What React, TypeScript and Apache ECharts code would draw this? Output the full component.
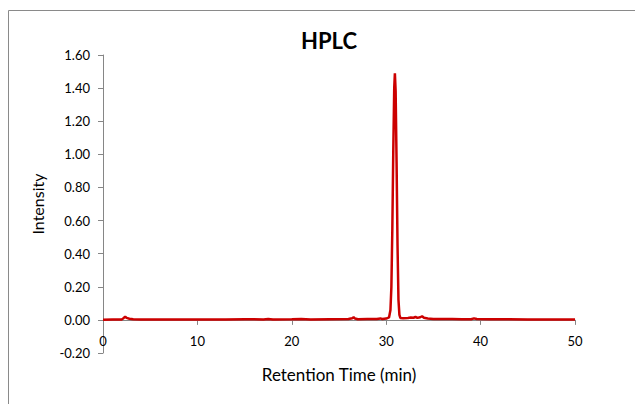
import React, { useEffect, useRef } from "react";
import * as echarts from "echarts";

const times: number[] = [
  0, 1, 2, 2.2, 2.35, 2.5, 2.8, 3.2, 4, 5, 7, 9, 11, 13, 15, 17, 17.5, 18, 20, 21, 22, 24, 26, 26.4, 26.55, 26.7, 27,
  28, 29, 29.4, 29.6, 30, 30.3, 30.45, 30.55, 30.65, 30.75, 30.85, 30.92, 31.0, 31.1, 31.2, 31.3, 31.4, 31.5, 31.8,
  32.3, 32.6, 32.9, 33.1, 33.3, 33.6, 33.8, 34.0, 34.4, 35, 36, 37, 38, 39, 39.3, 39.6, 41, 43, 45, 47, 49, 50,
];

const intensity: number[] = [
  0.001, 0.002, 0.003, 0.012, 0.02, 0.012, 0.007, 0.004, 0.002, 0.002, 0.002, 0.002, 0.003, 0.003, 0.004, 0.003, 0.006,
  0.003, 0.004, 0.005, 0.003, 0.004, 0.005, 0.01, 0.016, 0.008, 0.004, 0.005, 0.006, 0.009, 0.005, 0.008, 0.015, 0.06,
  0.2, 0.55, 1.02, 1.4, 1.49, 1.38, 0.95, 0.45, 0.12, 0.03, 0.012, 0.01, 0.012, 0.014, 0.013, 0.018, 0.012, 0.016,
  0.022, 0.013, 0.008, 0.006, 0.005, 0.005, 0.004, 0.004, 0.009, 0.005, 0.004, 0.004, 0.003, 0.003, 0.003, 0.003,
];

const yTicks = { min: -0.2, max: 1.6, interval: 0.2 };
const xTicks = { min: 0, max: 50, interval: 10 };

const FONT = "Lato, 'Open Sans', sans-serif";

const GRID_TOP = 55;
const GRID_BOTTOM = 51;
const H = 404;

export default function App() {
  const ref = useRef<HTMLDivElement>(null);
  useEffect(() => {
    if (!ref.current) return;
    const chart = echarts.init(ref.current, undefined, { renderer: "svg" });
    const data = times.map((t, i) => [t, intensity[i]]);
    // offset that moves the x axis from the grid bottom up to the y = 0 line
    const plotH = H - GRID_TOP - GRID_BOTTOM;
    const zeroOffset = -(plotH * (0 - yTicks.min)) / (yTicks.max - yTicks.min);
    chart.setOption({
      animation: false,
      backgroundColor: "#ffffff",
      title: {
        text: "HPLC",
        left: 324,
        top: 24,
        textAlign: "center",
        textStyle: { fontFamily: FONT, fontSize: 22, fontWeight: "bold", color: "#000" },
      },
      graphic: [
        {
          type: "rect",
          shape: { x: 8.5, y: 10.5, width: 700, height: 500 },
          style: { fill: "none", stroke: "#8a8a8a", lineWidth: 1 },
          silent: true,
        },
        {
          type: "text",
          x: 339,
          y: 374,
          style: {
            text: "Retention Time (min)",
            font: `17px ${FONT}`,
            fill: "#000",
            align: "center",
            verticalAlign: "middle",
          },
          silent: true,
        },
      ],
      grid: { left: 103, right: 60, top: GRID_TOP, bottom: GRID_BOTTOM, outerBoundsMode: "none", containLabel: false },
      xAxis: {
        type: "value",
        min: xTicks.min,
        max: xTicks.max,
        interval: xTicks.interval,
        offset: zeroOffset,
        axisLine: { onZero: false, lineStyle: { color: "#868686", width: 1 } },
        axisTick: { show: true, inside: false, length: 5, lineStyle: { color: "#868686" } },
        axisLabel: { fontFamily: FONT, fontSize: 13, color: "#000", margin: 15 },
        splitLine: { show: false },
      },
      yAxis: {
        type: "value",
        min: yTicks.min,
        max: yTicks.max,
        interval: yTicks.interval,
        name: "Intensity",
        nameLocation: "middle",
        nameGap: 58,
        nameTextStyle: { fontFamily: FONT, fontSize: 16, color: "#000" },
        axisLine: { show: true, onZero: false, lineStyle: { color: "#868686", width: 1 } },
        axisTick: { show: true, length: 5, lineStyle: { color: "#868686" } },
        axisLabel: {
          fontFamily: FONT,
          fontSize: 13,
          color: "#000",
          margin: 13,
          formatter: (v: number) => v.toFixed(2),
        },
        splitLine: { show: false },
      },
      series: [
        {
          type: "line",
          data,
          showSymbol: false,
          smooth: false,
          lineStyle: { color: "#CC0000", width: 2.5 },
          itemStyle: { color: "#CC0000" },
        },
      ],
    });
    return () => chart.dispose();
  }, []);
  return <div ref={ref} style={{ position: "absolute", left: 0, top: 0, width: 635, height: 404 }} />;
}
